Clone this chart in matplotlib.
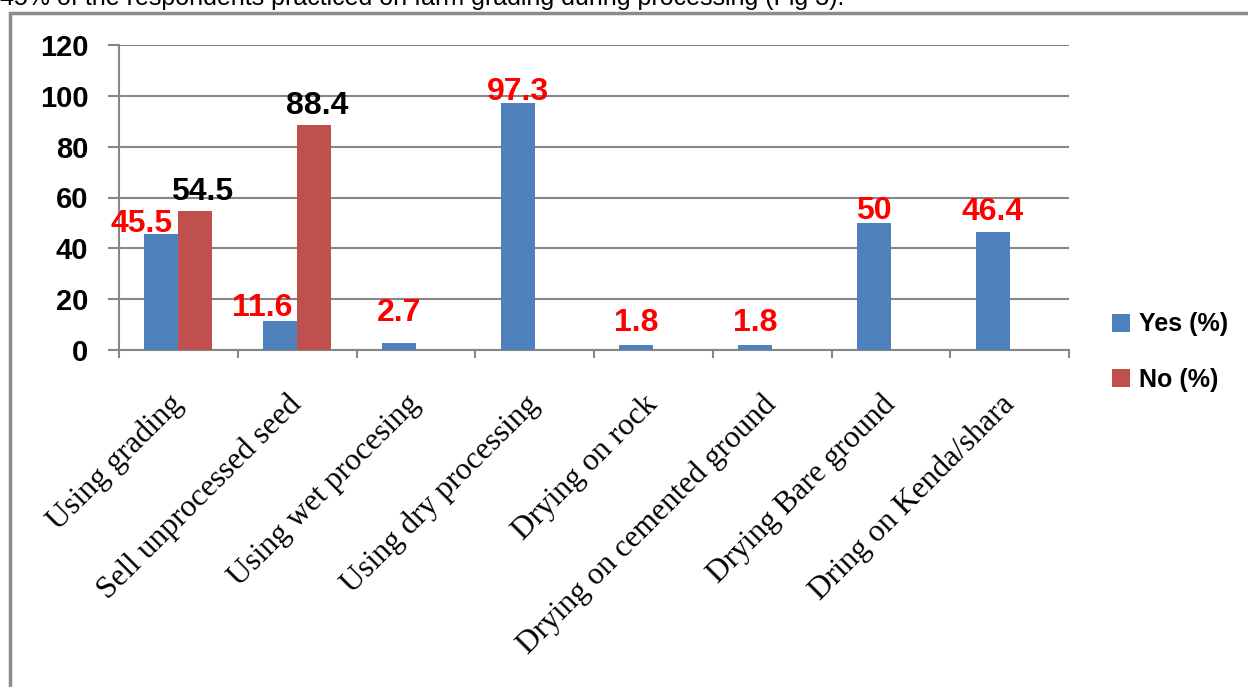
import numpy as np
import matplotlib
matplotlib.use("Agg")
import matplotlib.pyplot as plt
from matplotlib.patches import Rectangle

# data
categories = ["Using grading", "Sell unprocessed seed", "Using wet procesing",
              "Using dry processing", "Drying on rock", "Drying on cemented ground",
              "Drying Bare ground", "Dring on Kenda/shara"]
yes_vals = [45.5, 11.6, 2.7, 97.3, 1.8, 1.8, 50, 46.4]
no_vals = [54.5, 88.4, 0, 0, 0, 0, 0, 0]
yes_labels = ["45.5", "11.6", "2.7", "97.3", "1.8", "1.8", "50", "46.4"]
no_labels = ["54.5", "88.4", "", "", "", "", "", ""]

# label nudges (points) to mimic the hand-placed labels
yes_dx = [-14, -13, 0, 0, 0, 0, 0, 0]
yes_dy = [-3, -2, 11, -3, 5, 5, -2, 4]
no_dx = [5, 2]

blue = "#4F81BD"
red = "#C0504D"
grid_c = "#868686"
num_font = ["Liberation Sans", "DejaVu Sans"]

fig = plt.figure(figsize=(12.48, 6.87), dpi=100)
ax = fig.add_axes([119 / 1248, 1 - 350 / 687, 950 / 1248, 305 / 687])

x = np.arange(len(categories))
w = 0.286
ax.bar(x - w / 2, yes_vals, w, color=blue, label="Yes (%)", zorder=3)
ax.bar(x + w / 2, no_vals, w, color=red, label="No (%)", zorder=3)

for i, v in enumerate(yes_vals):
    ax.annotate(yes_labels[i], (x[i] - w / 2, v), xytext=(yes_dx[i], yes_dy[i]),
                textcoords="offset points", ha="center", va="bottom",
                color="red", fontsize=23, fontweight="bold", family=num_font)
for i, v in enumerate(no_vals):
    if no_labels[i]:
        ax.annotate(no_labels[i], (x[i] + w / 2, v), xytext=(no_dx[i], 3),
                    textcoords="offset points", ha="center", va="bottom",
                    color="black", fontsize=23, fontweight="bold", family=num_font)

ax.set_xlim(-0.5, len(categories) - 0.5)
ax.set_ylim(0, 120)
ax.set_yticks(range(0, 121, 20))
ax.yaxis.grid(True, color=grid_c, linewidth=1.5, zorder=0)
for s in ["top", "right"]:
    ax.spines[s].set_visible(False)
for s in ["left", "bottom"]:
    ax.spines[s].set_color(grid_c)
    ax.spines[s].set_linewidth(1.5)

ax.set_xticks(np.arange(-0.5, len(categories)), minor=False)
ax.set_xticklabels([])
ax.set_xticks(x, minor=True)
ax.set_xticklabels(categories, minor=True, rotation=45, ha="right", va="center",
                   rotation_mode="anchor", family="Liberation Serif", fontsize=22.5)
ax.tick_params(axis="x", which="minor", length=0, pad=36)
ax.tick_params(axis="x", which="major", length=6, width=1.5, color=grid_c, direction="out")
ax.tick_params(axis="y", length=8, width=1.5, color=grid_c, pad=14)
for t in ax.get_yticklabels():
    t.set_family(num_font)
    t.set_fontsize(21)
    t.set_fontweight("bold")

leg = fig.legend(loc="center left", bbox_to_anchor=(1089 / 1248, 1 - 352 / 687),
                 frameon=False, handlelength=0.75, handleheight=0.75,
                 handletextpad=0.35, labelspacing=1.25,
                 prop={"family": num_font, "weight": "bold", "size": 18})

# page text and frame cropped from the source document
fig.text(0.0, 1 - 5 / 687, "45% of the respondents practiced on farm grading during processing (Fig 3).",
         fontsize=18, family="Liberation Sans", va="baseline", ha="left")
fig.patches.append(Rectangle((10 / 1248, -0.1), 1.2, 1 - 13 / 687 + 0.1,
                             transform=fig.transFigure, fill=False,
                             edgecolor="#8c8c8c", linewidth=2.5))

fig.savefig("out.png", dpi=100)
